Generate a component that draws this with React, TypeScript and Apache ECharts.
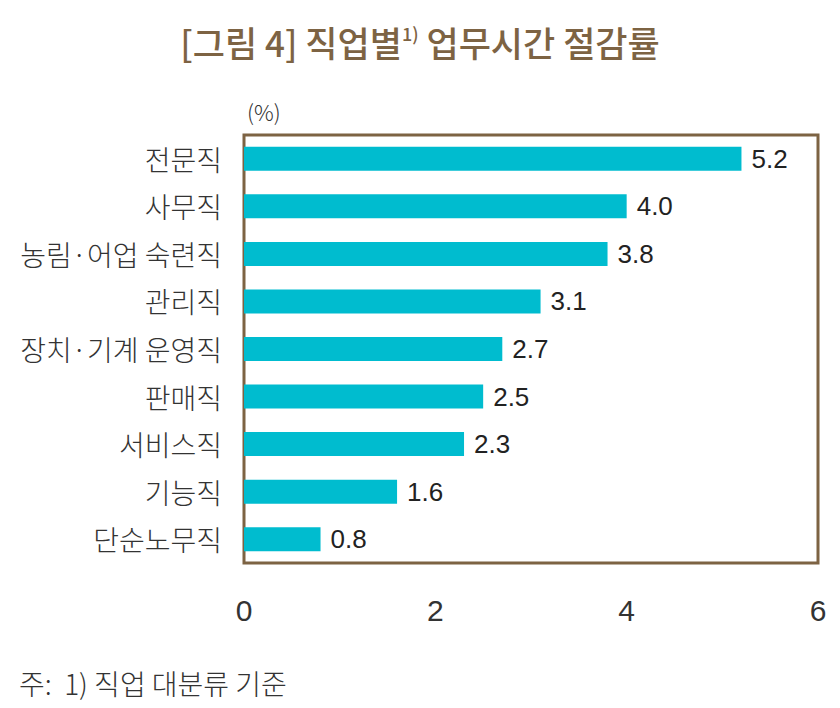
import React, { useEffect, useRef } from "react";
import * as echarts from "echarts";

const categories = [
  "전문직",
  "사무직",
  "농림·어업 숙련직",
  "관리직",
  "장치·기계 운영직",
  "판매직",
  "서비스직",
  "기능직",
  "단순노무직",
];
const reductionRate = [5.2, 4.0, 3.8, 3.1, 2.7, 2.5, 2.3, 1.6, 0.8];
const xTicks = [0, 2, 4, 6];

const FONT = '"Noto Sans CJK KR", "Noto Sans", sans-serif';
const NUM_FONT = '"Liberation Sans", Arial, sans-serif';
const BROWN = "#7d6343";
const BAR = "#00bccf";

export default function App() {
  const ref = useRef<HTMLDivElement>(null);

  useEffect(() => {
    if (!ref.current) return;
    const chart = echarts.init(ref.current, null, { renderer: "svg" });
    chart.setOption({
      animation: false,
      backgroundColor: "#ffffff",
      textStyle: { fontFamily: FONT },
      title: [
        {
          text: "[그림 4] 직업별{sup|1)} 업무시간 절감률",
          left: "center",
          top: 11,
          textStyle: {
            fontFamily: FONT,
            fontSize: 35,
            fontWeight: 500,
            color: BROWN,
            rich: {
              sup: {
                fontFamily: FONT,
                fontSize: 18,
                fontWeight: 500,
                color: BROWN,
                verticalAlign: "top",
                padding: [0, 0, 16, 0],
              },
            },
          },
        },
        {
          text: "(%)",
          left: 234,
          top: 87,
          textStyle: { fontFamily: FONT, fontSize: 22, fontWeight: 300, color: "#333" },
        },
        {
          text: "주:  1) 직업 대분류 기준",
          left: 6,
          top: 656,
          textStyle: { fontFamily: FONT, fontSize: 28, fontWeight: 300, color: "#333" },
        },
      ],
      grid: {
        left: 236,
        top: 127,
        width: 574,
        height: 428,
        show: true,
        borderColor: BROWN,
        borderWidth: 3,
        backgroundColor: "transparent",
      },
      xAxis: {
        type: "value",
        min: xTicks[0],
        max: xTicks[xTicks.length - 1],
        interval: 2,
        axisLine: { show: false },
        axisTick: { show: false },
        splitLine: { show: false },
        axisLabel: {
          margin: 32,
          fontFamily: NUM_FONT,
          fontSize: 30,
          color: "#333",
        },
      },
      yAxis: {
        type: "category",
        data: categories,
        inverse: true,
        axisLine: { show: false },
        axisTick: { show: false },
        axisLabel: {
          margin: 22,
          fontFamily: FONT,
          fontSize: 28,
          fontWeight: 300,
          color: "#333",
        },
      },
      series: [
        {
          type: "bar",
          data: reductionRate,
          barWidth: 24,
          itemStyle: { color: BAR },
          label: {
            show: true,
            position: "right",
            distance: 10,
            formatter: (p: any) => Number(p.value).toFixed(1),
            fontFamily: NUM_FONT,
            fontSize: 26,
            color: "#222",
          },
        },
      ],
    });
    return () => chart.dispose();
  }, []);

  return <div ref={ref} style={{ width: 824, height: 700 }} />;
}
